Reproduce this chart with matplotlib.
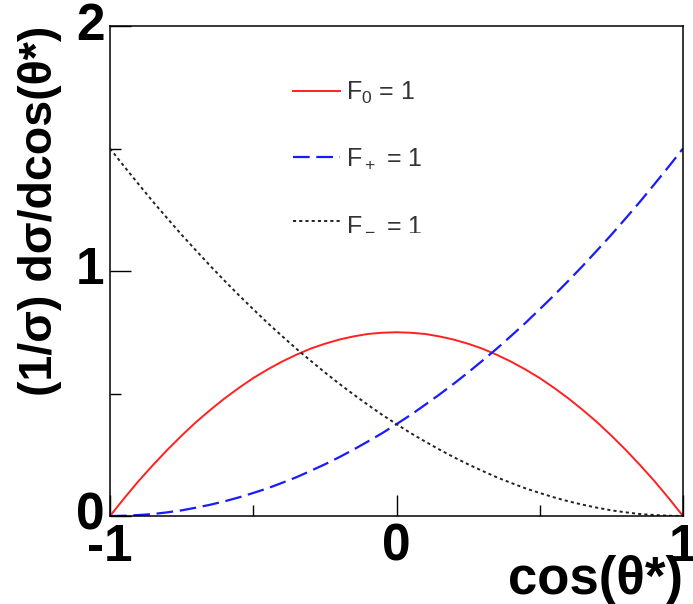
import matplotlib
matplotlib.use('Agg')
import matplotlib.pyplot as plt
from matplotlib.ticker import MultipleLocator

# Values at cos(theta*) = -1 ... 1, step 0.05
cos_theta = [-1.0, -0.95, -0.9, -0.85, -0.8, -0.75, -0.7, -0.65, -0.6, -0.55,
             -0.5, -0.45, -0.4, -0.35, -0.3, -0.25, -0.2, -0.15, -0.1, -0.05,
             0.0, 0.05, 0.1, 0.15, 0.2, 0.25, 0.3, 0.35, 0.4, 0.45,
             0.5, 0.55, 0.6, 0.65, 0.7, 0.75, 0.8, 0.85, 0.9, 0.95, 1.0]
f_zero = [0.0, 0.073, 0.143, 0.208, 0.27, 0.328, 0.383, 0.433, 0.48, 0.523,
          0.563, 0.598, 0.63, 0.658, 0.683, 0.703, 0.72, 0.733, 0.743, 0.748,
          0.75, 0.748, 0.743, 0.733, 0.72, 0.703, 0.683, 0.658, 0.63, 0.598,
          0.563, 0.523, 0.48, 0.433, 0.383, 0.328, 0.27, 0.208, 0.143, 0.073, 0.0]
f_plus = [0.0, 0.001, 0.004, 0.008, 0.015, 0.023, 0.034, 0.046, 0.06, 0.076,
          0.094, 0.113, 0.135, 0.158, 0.184, 0.211, 0.24, 0.271, 0.304, 0.338,
          0.375, 0.413, 0.454, 0.496, 0.54, 0.586, 0.634, 0.683, 0.735, 0.788,
          0.844, 0.901, 0.96, 1.021, 1.084, 1.148, 1.215, 1.283, 1.354, 1.426, 1.5]
f_minus = [1.5, 1.426, 1.354, 1.283, 1.215, 1.148, 1.084, 1.021, 0.96, 0.901,
           0.844, 0.788, 0.735, 0.683, 0.634, 0.586, 0.54, 0.496, 0.454, 0.413,
           0.375, 0.338, 0.304, 0.271, 0.24, 0.211, 0.184, 0.158, 0.135, 0.113,
           0.094, 0.076, 0.06, 0.046, 0.034, 0.023, 0.015, 0.008, 0.004, 0.001, 0.0]
legend_labels = ['F$_0$ = 1', 'F$_+$ = 1', 'F$_-$ = 1']
x_ticklabels = ['-1', '0', '1']

plt.rcParams['font.family'] = ['Liberation Sans', 'DejaVu Sans']
plt.rcParams['mathtext.fontset'] = 'custom'
plt.rcParams['mathtext.rm'] = 'Liberation Sans'

W, H = 693, 604
fig = plt.figure(figsize=(W / 100, H / 100), dpi=100)
ax = fig.add_axes([110 / W, 88 / H, 573 / W, 490 / H])

ax.plot(cos_theta, f_zero, color='#ff2020', lw=1.4, label=legend_labels[0])
ax.plot(cos_theta, f_plus, color='#1a1aff', lw=1.6, dashes=(7.5, 3.0),
        label=legend_labels[1])
ax.plot(cos_theta, f_minus, color='#222222', lw=1.4, dashes=(1.6, 1.6),
        label=legend_labels[2])

ax.set_xlim(-1, 1)
ax.set_ylim(0, 2)
ax.set_xticks([-1, 0, 1])
ax.set_xticklabels(x_ticklabels)
ax.xaxis.set_minor_locator(MultipleLocator(0.5))
ax.yaxis.set_major_locator(MultipleLocator(1))
ax.yaxis.set_minor_locator(MultipleLocator(0.5))
ax.tick_params(which='both', direction='in', width=1.0, color='black')
ax.tick_params(which='major', length=15)
ax.tick_params(which='minor', length=8)
ax.tick_params(axis='x', which='major', labelsize=37, pad=5)
ax.tick_params(axis='y', which='major', labelsize=37, pad=4)
for lab in ax.get_xticklabels() + ax.get_yticklabels():
    lab.set_fontweight('bold')
for lab in ax.get_yticklabels():
    lab.set_verticalalignment('center')
for sp in ax.spines.values():
    sp.set_linewidth(1.1)

# axis titles placed like the ROOT original
fig.text(683 / W, (H - 594) / H, 'cos(θ*)', fontsize=38, fontweight='bold',
         ha='right', va='baseline')
fig.text(40 / W, 1 - 26 / H, '(1/σ) dσ/dcos(θ*)', fontsize=33.5,
         fontweight='bold', rotation=90, ha='center', va='top')

leg = ax.legend(loc='upper left', bbox_to_anchor=(0.298, 0.915), frameon=False,
                fontsize=18, handlelength=1.85, handletextpad=0.25,
                labelspacing=1.6, labelcolor='#333333', borderpad=0)

fig.savefig('out.png', dpi=100)
